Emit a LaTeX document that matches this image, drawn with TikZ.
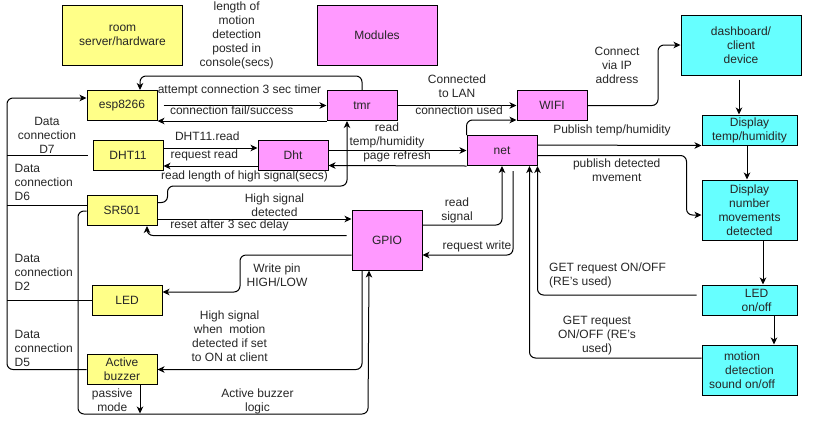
\documentclass[tikz,border=0pt]{standalone}
\usepackage{fontspec}
\setmainfont{Liberation Sans}
\usetikzlibrary{arrows.meta,calc}
\definecolor{yel}{HTML}{FFFF88}
\definecolor{pnk}{HTML}{FF99FF}
\definecolor{cyn}{HTML}{66FFFF}
\begin{document}
\begin{tikzpicture}[x=1pt,y=-1pt,
  every node/.style={font=\fontsize{12}{14}\selectfont, text=black!85},
  sz/.style 2 args={minimum width=#1pt, minimum height=#2pt},
  basebox/.style={draw=black, line width=1pt, align=center, inner sep=0pt, minimum width=70pt, minimum height=30pt},
  ybox/.style={basebox, fill=yel},
  pbox/.style={basebox, fill=pnk},
  cbox/.style={basebox, fill=cyn},
  lbl/.style={align=center, inner sep=0pt},
  lbll/.style={align=left, inner sep=0pt, anchor=west},
  conn/.style={draw=black, line width=1pt},
  arr/.style={conn, -{Stealth[length=7pt,width=6.5pt,inset=2pt]}},
  rc/.style={rounded corners=6pt}
]
\useasboundingbox (0,0) rectangle (813,424);

% boxes
\node[ybox, sz={120}{60}] (room) at (122.5,35) {room\\server/hardware};
\node[pbox, sz={120}{60}] (mods) at (377,35) {Modules};
\node[ybox] (esp) at (122,105.5) {esp8266};
\node[pbox] (tmr) at (362,105.5) {tmr};
\node[ybox] (DHT) at (128,155.5) {DHT11};
\node[pbox] (Dht) at (293,155.5) {Dht};
\node[ybox] (SR) at (122,210.5) {SR501};
\node[pbox, sz={70}{60}] (GPIO) at (387,240) {GPIO};
\node[ybox] (LED) at (127,300.5) {LED};
\node[ybox] (buzz) at (122,369.5) {Active\\buzzer};
\node[pbox] (WIFI) at (552,105.5) {WIFI};
\node[pbox] (net) at (502,150.5) {net};
\node[cbox, sz={120}{60}] (dash) at (741,45) {dashboard/\\client\\device};
\node[cbox, sz={95}{30}] (DispT) at (749.5,130) {Display\\temp/humidity};
\node[cbox, sz={95}{60}] (DispN) at (749.5,210) {Display\\number\\movements\\detected};
\node[cbox, sz={95}{30}] (LEDo) at (749.5,300) {\hspace*{14pt}LED\\\hspace*{14pt}on/off};
\node[cbox, sz={95}{50}] (motion) at (749.5,370) {motion\hspace*{15pt}\\detection\hspace*{15pt}\\sound on/off\hspace*{15pt}};

% connectors
\draw[arr,rc] (tmr.north) |- (140,76) -- ($(esp.north)+(18,0)$);
\draw[arr] ($(esp.east)+(6,0)$) -- (tmr.west);
\draw[arr] (tmr.south west) -- (esp.south east);

\draw[arr,rc] (buzz.west) -- (7,369.5) |- ($(esp.west)+(0,-7.5)$);
\draw[conn] (7,155.5) -- ($(DHT.west)+(-5,0)$);
\draw[conn] (7,205.5) -- ($(SR.west)+(0,-5)$);
\draw[conn] (7,300.5) -- (LED.west);

\draw[arr] ($(DHT.east)+(0,-7.5)$) -- ($(Dht.west)+(0,-7.5)$);
\draw[arr] ($(Dht.west)+(0,10.5)$) -- ($(DHT.east)+(0,10.5)$);

\draw[arr,rc] ($(SR.east)+(0,-8)$) -- ++(10,0) |- (347,186) -- ($(tmr.south)+(-15,0)$);
\draw[arr] ($(SR.east)+(0,8.5)$) -- ($(GPIO.west)+(0,-21)$);
\draw[arr,rc] ($(GPIO.west)+(-5,-4.5)$) -| ($(SR.south)+(25,0)$);
\draw[arr,rc] ($(GPIO.west)+(0,15)$) -| (240,292) -- ($(LED.east)+(0,-8.5)$);
\draw[arr,rc] ($(GPIO.south)+(-25,0)$) |- (buzz.east);
\coordinate (pm) at (140,413.5);
\draw[arr] ($(buzz.south)+(18,0)$) -- (pm);
\draw[arr,rc] ($(SR.west)+(0,0.5)$) -- (78,211) |- (368,414) -- ($(GPIO.south)+(-18,0)$);

\draw[arr] (tmr.east) -- (WIFI.west);
\draw[arr,rc] (net.north west) |- ($(WIFI.south west)+(0,-1)$);
\draw[arr] ($(Dht.east)+(0,-5)$) -- (net.west);
\draw[arr] (net.south west) -- ($(Dht.east)+(0,10)$);
\draw[arr,rc] ($(GPIO.east)+(0,-15)$) -| (net.south);
\draw[arr,rc] ($(net.south)+(11,5)$) |- ($(GPIO.east)+(0,15)$);
\draw[arr] ($(net.east)+(0,-5.5)$) -- (DispT.south west);
\draw[arr,rc] ($(net.east)+(0,5)$) -| ($(DispN.west)+(-15,5)$) -- ($(DispN.west)+(0,5)$);
\draw[arr,rc] (WIFI.east) -| (658,45) -- (dash.west);
\draw[arr] ($(dash.south)+(-2,4)$) -- ($(DispT.north)+(-10.5,0)$);
\draw[arr] ($(DispT.south)+(-2.5,0)$) -- ($(DispN.north)+(-2.5,0)$);
\draw[arr] ($(DispN.south)+(13.5,0)$) -- ($(LEDo.north)+(13.5,0)$);
\draw[arr] ($(LEDo.south)+(24.5,0)$) -- ($(motion.north)+(24.5,0)$);
\draw[arr,rc] ($(LEDo.west)+(-5,-5)$) -| (net.south east);
\draw[arr,rc] ($(motion.west)+(0,-12)$) -| ($(net.south east)+(-8,0)$);

% labels
\node[lbl] (lLen) at (236.7,35.5) {length of\\motion\\detection\\posted in\\console(secs)};
\node[lbl] (lAtt) at (239.5,90.7) {attempt connection 3 sec timer};
\node[lbl] (lFail) at (231.7,110.7) {connection fail/success};
\node[lbl] (lD7) at (47,135.7) {Data\\connection\\D7};
\node[lbll] (lD6) at (14.5,182.5) {Data\\connection\\D6};
\node[lbll] (lD2) at (14.5,272.8) {Data\\connection\\D2};
\node[lbll] (lD5) at (14.5,348) {Data\\connection\\D5};
\node[lbl] (lDr) at (207.3,136) {DHT11.read};
\node[lbl] (lRr) at (204.3,155.7) {request read};
\node[lbl] (lHi) at (244.5,176) {read length of high signal(secs)};
\node[lbl] (lHs) at (274.5,205.5) {High signal\\detected};
\node[lbl] (lRs) at (229.5,225.7) {reset after 3 sec delay};
\node[lbl] (lWp) at (277,275.7) {Write pin\\HIGH/LOW};
\node[lbl] (lHw) at (229.6,336) {High signal\\when\ \ motion\\detected if set\\to ON at client};
\node[lbl] (lPm) at (112.3,400.7) {passive\\mode};
\node[lbl] (lAb) at (257.5,401) {Active buzzer\\logic};
\node[lbl] (lLan) at (457,86) {Connected\\to LAN};
\node[lbl] (lCu) at (459,110.7) {connection used};
\node[lbl] (lRt) at (387,142.5) {read\\temp/humidity\\\hspace*{20pt}page refresh};
\node[lbl] (lRsig) at (457,210.5) {read\\signal};
\node[lbl] (lRw) at (477,246) {request write};
\node[lbl] (lIp) at (617,65.5) {Connect\\via IP\\address};
\node[lbl] (lPt) at (612,130) {Publish temp/humidity};
\node[lbl] (lPd) at (616.7,170) {publish detected\\mvement};
\node[lbll] (lG1) at (549,275.7) {GET request ON/OFF\\(RE's used)};
\node[lbl] (lG2) at (597,335.6) {GET request\\ON/OFF (RE's\\used)};
\end{tikzpicture}
\end{document}
